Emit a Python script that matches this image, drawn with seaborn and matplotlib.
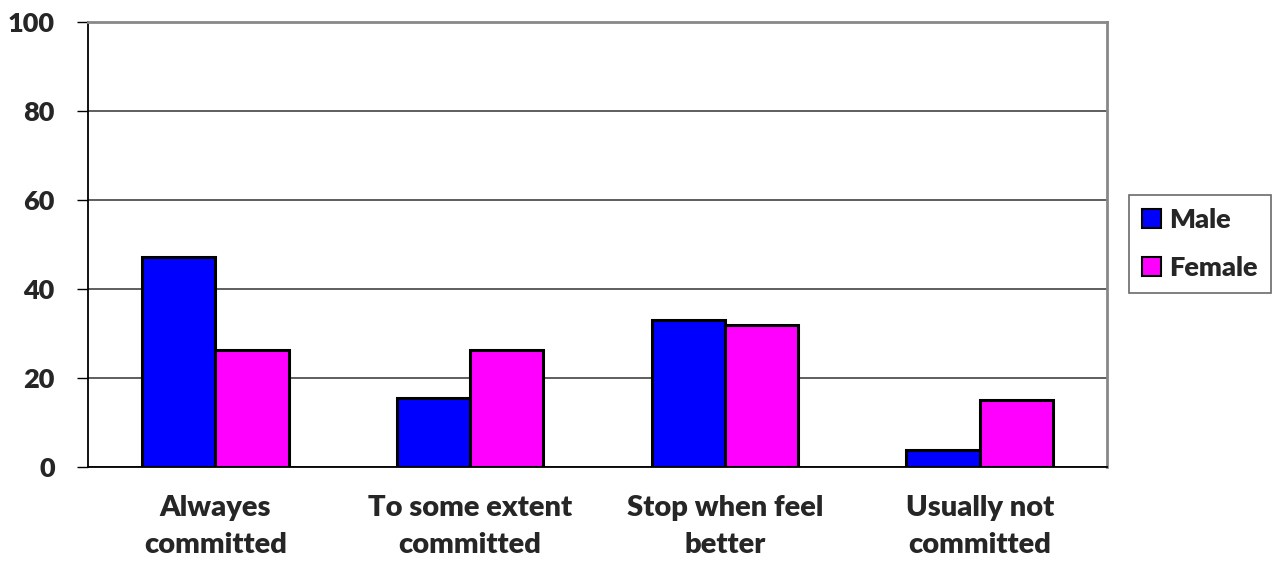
import matplotlib
matplotlib.use("Agg")
import matplotlib.pyplot as plt
import seaborn as sns
import pandas as pd
from matplotlib.patches import Patch

categories = ["Alwayes\ncommitted", "To some extent\ncommitted", "Stop when feel\nbetter", "Usually not\ncommitted"]
male = [47.2, 15.5, 33.0, 3.8]
female = [26.3, 26.3, 31.9, 15.1]
series = ["Male", "Female"]
colors = {"Male": "#0000FF", "Female": "#FF00FF"}
y_ticks = [0, 20, 40, 60, 80, 100]

df = pd.DataFrame({
    "category": categories * 2,
    "value": male + female,
    "sex": ["Male"] * len(categories) + ["Female"] * len(categories),
})

sns.set_theme(style="white")
plt.rcParams["font.family"] = ["Lato", "DejaVu Sans"]
plt.rcParams["font.weight"] = "heavy"

fig = plt.figure(figsize=(12.76, 5.63), dpi=100)
ax = fig.add_axes([0.069, 0.1705, 0.7986, 0.7905])

sns.barplot(data=df, x="category", y="value", hue="sex", hue_order=series,
            palette=colors, width=0.575, edgecolor="black", linewidth=2.2,
            saturation=1, ax=ax, legend=False, zorder=3)

ax.set_ylim(0, 100)
ax.set_xlim(-0.5, len(categories) - 0.5)
ax.set_yticks(y_ticks)
ax.set_yticklabels([str(t) for t in y_ticks], fontsize=19.5, fontweight="heavy")
ax.yaxis.grid(True, color="#333333", linewidth=1.1, zorder=0)
ax.set_axisbelow(True)

# category labels centred under each group; ticks at the group boundaries
ax.set_xticks(range(len(categories)))
ax.set_xticklabels(categories, fontsize=21, fontweight="heavy", linespacing=1.55)
ax.tick_params(axis="x", length=0, pad=20)
ax.set_xticks([i - 0.5 for i in range(len(categories) + 1)], minor=True)
ax.tick_params(axis="x", which="minor", length=9, width=1, color="black", direction="out")
ax.tick_params(axis="y", length=8, width=1, color="black", direction="out", pad=16, left=True)

ax.set_xlabel("")
ax.set_ylabel("")
for side in ["left", "bottom"]:
    ax.spines[side].set_color("black")
    ax.spines[side].set_linewidth(1.3)
for side in ["top", "right"]:
    ax.spines[side].set_visible(True)
    ax.spines[side].set_color("#888888")
    ax.spines[side].set_linewidth(2)

handles = [Patch(facecolor=colors[s], edgecolor="black", linewidth=1.5, label=s) for s in series]
leg = fig.legend(handles=handles, loc="center left", bbox_to_anchor=(0.8848, 0.5666),
                 frameon=True, fancybox=False, edgecolor="#444444",
                 handlelength=0.7, handleheight=0.7, handletextpad=0.3,
                 labelspacing=0.9, borderpad=0.48, borderaxespad=0,
                 prop={"weight": "heavy", "size": 19.5})
leg.get_frame().set_linewidth(1.2)

fig.savefig("out.png", dpi=100, facecolor="white")
